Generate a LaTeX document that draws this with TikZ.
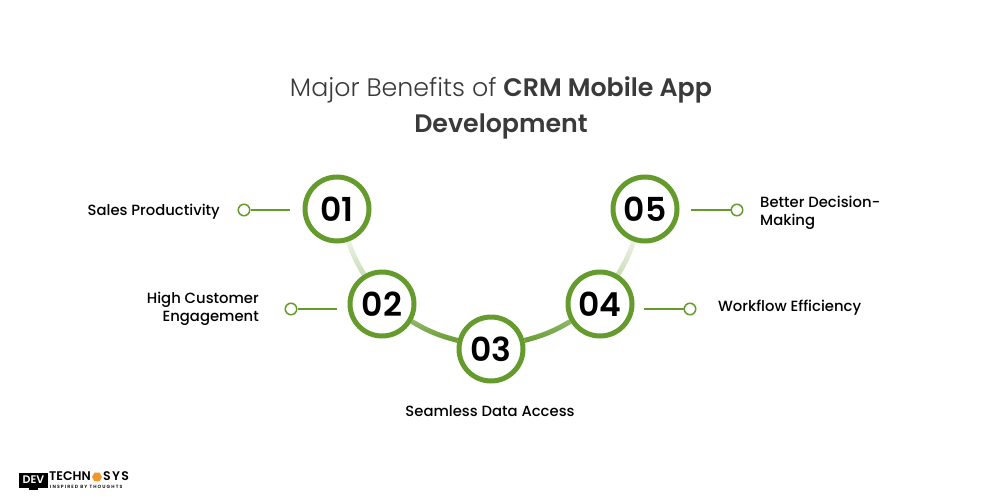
\documentclass[tikz,border=0pt]{standalone}
\usepackage{fontspec}
\setmainfont{Poppins}[BoldFont={Poppins SemiBold}]
\newfontfamily\mediumfont{Poppins Medium}
\newfontfamily\titlefont{Poppins Light}[BoldFont={Poppins SemiBold}]
\usetikzlibrary{positioning, fadings, shapes.geometric, backgrounds}
\definecolor{leafgreen}{HTML}{659B2D}
\definecolor{titlegray}{HTML}{3A3A3A}
\definecolor{logoorange}{HTML}{F0962A}
\tikzfading[name=fadeupper, top color=transparent!30, bottom color=transparent!0]
\tikzfading[name=fadelower, top color=transparent!88, bottom color=transparent!65]
\tikzset{
  stepnum/.style={circle, draw=leafgreen, line width=5pt, fill=white, minimum size=64pt, inner sep=0pt, font=\fontsize{33}{33}\selectfont\bfseries, text=black},
  dotnode/.style={circle, draw=leafgreen, line width=1.5pt, fill=white, minimum size=11.5pt, inner sep=0pt},
  leader/.style={draw=leafgreen, line width=1.2pt},
  linkline/.style={draw=leafgreen, line width=5pt},
  benefit/.style={font=\fontsize{14.8}{18}\mediumfont, text=black, inner sep=0pt},
}
\begin{document}
\begin{tikzpicture}[x=1pt, y=-1pt]
\useasboundingbox (0,0) rectangle (1000,500);
% title
\node (title) [at={(501,108)}, align=center, text=titlegray, inner sep=0pt, font=\fontsize{25.3}{25.3}\titlefont]
  {Major Benefits of \textbf{CRM Mobile App}\\[9pt]\textbf{Development}};
% circles
\node [stepnum] (n01) at (337,209) {01};
\node [stepnum] (n02) at (382,304) {02};
\node [stepnum] (n03) at (491,349) {03};
\node [stepnum] (n04) at (600,304) {04};
\node [stepnum] (n05) at (645,209) {05};
% arc between the circles
\begin{pgfonlayer}{background}
\draw [linkline, path fading=fadelower] (n01) to[bend right=6] (n02);
\draw [linkline, path fading=fadelower] (n05) to[bend left=6] (n04);
\draw [linkline, path fading=fadeupper] (n02) to[bend right=8] (n03);
\draw [linkline, path fading=fadeupper] (n04) to[bend left=8] (n03);
\end{pgfonlayer}
% leaders
\node [dotnode] (dot01) at (244,210) {};
\node [dotnode] (dot02) at (291,309) {};
\node [dotnode] (dot04) at (690,309) {};
\node [dotnode] (dot05) at (737,210) {};
\coordinate (end01) at (290,210);
\coordinate (end02) at (337,309);
\coordinate (end04) at (644,309);
\coordinate (end05) at (691,210);
\draw [leader] (dot01) -- (end01);
\draw [leader] (dot02) -- (end02);
\draw [leader] (dot04) -- (end04);
\draw [leader] (dot05) -- (end05);
% labels
\node [benefit, anchor=east] (lab01) at (220,212) {Sales Productivity};
\node [benefit, anchor=east, align=right] (lab02) at (259,309) {High Customer\\Engagement};
\node [benefit] (lab03) at (490,411) {Seamless Data Access};
\node [benefit, anchor=west] (lab04) at (718,308) {Workflow Efficiency};
\node [benefit, anchor=west, align=left] (lab05) at (760,213) {Better Decision-\\Making};
% logo
\node (screen) [at={(33.5,480)}, fill=black, minimum width=29pt, minimum height=15pt, inner sep=0pt, text=white, font=\fontsize{11}{11}\selectfont\bfseries] {DEV};
\fill (29,487) rectangle (38,490);
\node (techn) [anchor=west, inner sep=0pt, at={(49,476.5)}, font=\fontsize{12.5}{12.5}\selectfont\bfseries] {TECHN};
\node (gem) [at={(97,477)}, regular polygon, regular polygon sides=6, fill=logoorange, minimum size=10pt, inner sep=0pt] {};
\node (sys) [anchor=west, inner sep=0pt, at={(103,476.5)}, font=\fontsize{12.5}{12.5}\selectfont\bfseries\addfontfeatures{LetterSpace=10}] {SYS};
\node (motto) [anchor=west, inner sep=0pt, at={(50,486.5)}, font=\fontsize{4.6}{5}\selectfont\bfseries\addfontfeatures{LetterSpace=24}] {INSPIRED BY THOUGHTS};
\end{tikzpicture}
\end{document}
